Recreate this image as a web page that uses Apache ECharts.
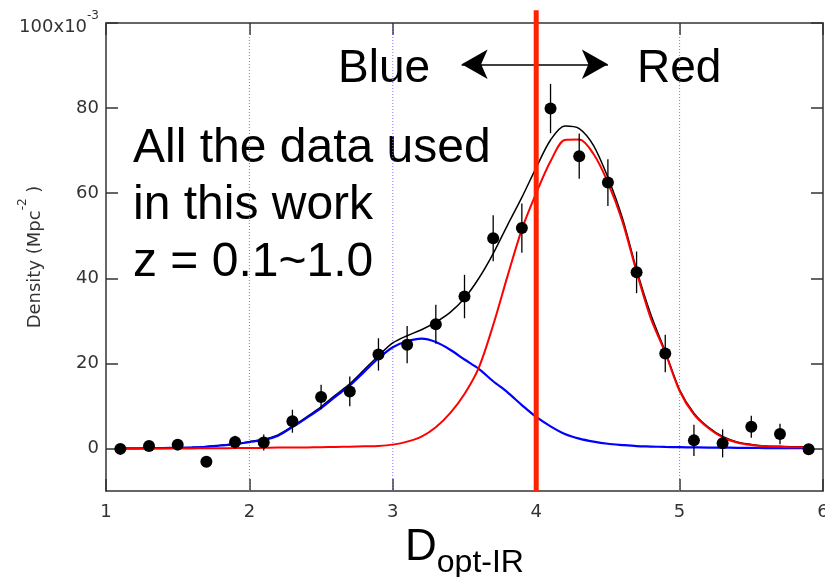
<!DOCTYPE html>
<html>
<head>
<meta charset="utf-8">
<script src="https://cdn.jsdelivr.net/npm/echarts@6/dist/echarts.min.js"></script>
<style>
html, body { margin: 0; padding: 0; background: #fff; }
#chart { width: 825px; height: 577px; }
</style>
</head>
<body>
<div id="chart"></div>
<script>
// fitted curves, every 0.1 in D
const fitX = [1.1, 1.2, 1.3, 1.4, 1.5, 1.6, 1.7, 1.8, 1.9, 2.0,
    2.1, 2.2, 2.3, 2.4, 2.5, 2.6, 2.7, 2.8, 2.9, 3.0,
    3.1, 3.2, 3.3, 3.4, 3.5, 3.6, 3.7, 3.8, 3.9, 4.0,
    4.1, 4.2, 4.3, 4.4, 4.5, 4.6, 4.7, 4.8, 4.9, 5.0,
    5.1, 5.2, 5.3, 5.4, 5.5, 5.6, 5.7, 5.8, 5.9];
const blueFit = [0, 0, 0.05, 0.1, 0.15, 0.25, 0.4, 0.7, 1.0, 1.5,
    2.0, 3.0, 5.0, 7.2, 9.5, 12.2, 14.8, 18.0, 21.2, 23.8,
    25.2, 25.8, 25.0, 23.2, 20.9, 18.7, 15.8, 13.2, 10.2, 7.4,
    5.2, 3.4, 2.3, 1.6, 1.1, 0.8, 0.55, 0.45, 0.35, 0.3,
    0.25, 0.2, 0.2, 0.15, 0.15, 0.1, 0.1, 0.1, 0.1];
const redFit = [0, 0, 0, 0, 0, 0, 0.05, 0.05, 0.1, 0.1,
    0.15, 0.2, 0.2, 0.25, 0.3, 0.35, 0.4, 0.5, 0.6, 0.9,
    1.6, 2.8, 5.0, 8.3, 12.8, 19.0, 29.0, 40.5, 51.5, 60.0,
    67.5, 72.5, 72.6, 69.2, 62.5, 53.5, 41.5, 30.5, 22.5, 13.5,
    8.0, 4.8, 2.6, 1.4, 0.8, 0.5, 0.4, 0.3, 0.3];
const totalFit = [0, 0, 0.1, 0.1, 0.15, 0.25, 0.45, 0.75, 1.1, 1.6,
    2.15, 3.2, 5.2, 7.45, 9.8, 12.55, 15.2, 18.5, 21.8, 24.8,
    26.5, 27.9, 29.7, 32.0, 35.3, 40.0, 45.8, 52.5, 59.0, 66.0,
    72.5, 75.8, 75.2, 71.2, 63.7, 54.3, 42.0, 31.4, 22.8, 13.8,
    8.3, 5.0, 2.8, 1.55, 0.95, 0.6, 0.5, 0.4, 0.4];

// measured densities (x10^-3 Mpc^-2) and their errors
const pointX = [1.1, 1.3, 1.5, 1.7, 1.9, 2.1, 2.3, 2.5, 2.7, 2.9,
    3.1, 3.3, 3.5, 3.7, 3.9, 4.1, 4.3, 4.5, 4.7, 4.9,
    5.1, 5.3, 5.5, 5.7, 5.9];
const pointY = [-0.1, 0.55, 0.9, -3.1, 1.5, 1.4, 6.4, 12.1, 13.4, 22.1,
    24.4, 29.2, 35.7, 49.4, 51.8, 79.9, 68.7, 62.5, 41.4, 22.3,
    1.9, 1.2, 5.1, 3.4, -0.2];
const pointErr = [0.8, 1.0, 1.0, 1.2, 1.5, 1.9, 2.7, 2.9, 3.5, 3.8,
    4.4, 4.6, 5.1, 5.4, 5.8, 5.8, 5.3, 5.5, 4.9, 4.4,
    3.7, 3.3, 2.6, 2.4, 1.0];

const yTicks = [0, 20, 40, 60, 80, 100];
// dotted guide lines: x, bottom, top
const guideLines = [[2, -10, 100], [3, -10, 100], [5, -10, 100]];
// blue/red dividing line: x, bottom and top (it pokes above the frame)
const splitLine = [4, -10, 103];
// double arrow between the Blue / Red labels
const arrowFrom = [3.48, 90.3];
const arrowTo = [4.5, 90.3];

const axisFont = 'DejaVu Sans';
const bigFont = 'Liberation Sans';
const axisColor = '#333';

const chart = echarts.init(document.getElementById('chart'));

const pairs = (ys) => fitX.map((x, i) => [x, ys[i]]);
const errData = pointX.map((x, i) => [x, pointY[i] - pointErr[i], pointY[i] + pointErr[i]]);

const frameAxis = {
    type: 'value',
    axisLine: { onZero: false, lineStyle: { color: axisColor, width: 1.5 } },
    axisTick: { inside: true, length: 12, lineStyle: { color: axisColor, width: 1.5 } },
    axisLabel: { show: false },
    splitLine: { show: false },
};

// vertical range bar from (x, lo) to (x, hi)
const vbar = (stroke, width, lineDash) => (params, api) => {
    const a = api.coord([api.value(0), api.value(1)]);
    const b = api.coord([api.value(0), api.value(2)]);
    return {
        type: 'line',
        shape: { x1: a[0], y1: a[1], x2: b[0], y2: b[1] },
        style: { stroke, lineWidth: width, lineDash: lineDash || null },
    };
};

chart.setOption({
    animation: false,
    backgroundColor: '#fff',
    grid: { left: 106, right: 2, top: 23, bottom: 86, containLabel: false, outerBoundsMode: 'none' },
    xAxis: [
        {
            ...frameAxis,
            min: 1, max: 6, interval: 1, position: 'bottom',
            axisLabel: { margin: 12, color: axisColor, fontSize: 18, fontFamily: axisFont },
            name: '{d|D}{s|opt-IR}',
            nameLocation: 'middle',
            nameGap: 30,
            nameTextStyle: {
                rich: {
                    d: { fontSize: 44, fontFamily: bigFont, color: '#000', padding: [0, 0, 9, 0] },
                    s: { fontSize: 32, fontFamily: bigFont, color: '#000', verticalAlign: 'bottom' },
                },
            },
        },
        { ...frameAxis, min: 1, max: 6, interval: 1, position: 'top' },
    ],
    yAxis: [
        {
            ...frameAxis,
            min: -10, max: 100, position: 'left',
            axisTick: { inside: true, length: 12, customValues: yTicks, lineStyle: { color: axisColor, width: 1.5 } },
            axisLabel: {
                customValues: yTicks,
                margin: 7,
                formatter: (v) => v === 100 ? '{t|100x10}{p|-3}' : '{m|' + v + '}',
                rich: {
                    m: { fontSize: 18, fontFamily: axisFont, color: axisColor },
                    t: { fontSize: 18, fontFamily: axisFont, color: axisColor, padding: [9, 0, 0, 0] },
                    p: { fontSize: 12, fontFamily: axisFont, color: axisColor, verticalAlign: 'top' },
                },
            },
            name: '{a|Density (Mpc}{s|-2}{a| )}',
            nameLocation: 'middle',
            nameRotate: 90,
            nameGap: 62,
            nameMoveOverlap: false,
            nameTextStyle: {
                rich: {
                    a: { fontSize: 18, fontFamily: axisFont, color: axisColor, padding: [9, 0, 0, 0] },
                    s: { fontSize: 12, fontFamily: axisFont, color: axisColor, verticalAlign: 'top' },
                },
            },
        },
        {
            ...frameAxis,
            min: -10, max: 100, position: 'right',
            axisTick: { inside: true, length: 12, customValues: yTicks, lineStyle: { color: axisColor, width: 1.5 } },
        },
    ],
    series: [
        {
            name: 'guides', type: 'custom', data: guideLines, z: 1, silent: true,
            encode: { x: 0, y: [1, 2] },
            renderItem: vbar('#7878ff', 1, [1, 2]),
        },
        {
            name: 'total', type: 'line', data: pairs(totalFit),
            showSymbol: false, smooth: 0.3, z: 2, silent: true,
            lineStyle: { color: '#000', width: 1.5 },
        },
        {
            name: 'blue', type: 'line', data: pairs(blueFit),
            showSymbol: false, smooth: 0.3, z: 3, silent: true,
            lineStyle: { color: '#0000ff', width: 2.2 },
        },
        {
            name: 'red', type: 'line', data: pairs(redFit),
            showSymbol: false, smooth: 0.3, z: 3, silent: true,
            lineStyle: { color: '#ff0000', width: 2 },
        },
        {
            name: 'err', type: 'custom', data: errData, z: 4, silent: true,
            encode: { x: 0, y: [1, 2] },
            renderItem: vbar('#000', 1.3),
        },
        {
            name: 'points', type: 'scatter', z: 5, silent: true,
            data: pointX.map((x, i) => [x, pointY[i]]),
            symbolSize: 12,
            itemStyle: { color: '#000', opacity: 1 },
        },
        {
            name: 'split', type: 'custom', data: [splitLine], z: 6, clip: false, silent: true,
            encode: { x: 0, y: [1, 2] },
            renderItem: vbar('#ff2200', 5),
        },
        {
            name: 'arrow', type: 'line', data: [], z: 7, clip: false, silent: true,
            markLine: {
                silent: true, symbol: ['arrow', 'arrow'], symbolSize: [22, 26],
                label: { show: false },
                lineStyle: { color: '#000', width: 1.5, type: 'solid' },
                data: [[{ coord: arrowFrom }, { coord: arrowTo }]],
            },
        },
    ],
    graphic: [
        {
            type: 'text', left: 338, top: 46, silent: true, z: -1,
            style: { text: 'Blue', font: '46px "Liberation Sans"', fill: '#000' },
        },
        {
            type: 'text', left: 637, top: 46, silent: true, z: -1,
            style: { text: 'Red', font: '46px "Liberation Sans"', fill: '#000' },
        },
        {
            type: 'text', left: 133, top: 120, silent: true, z: -1,
            style: {
                text: 'All the data used\nin this work\nz = 0.1~1.0',
                font: '48px "Liberation Sans"', lineHeight: 57, fill: '#000',
            },
        },
    ],
});
</script>
</body>
</html>
